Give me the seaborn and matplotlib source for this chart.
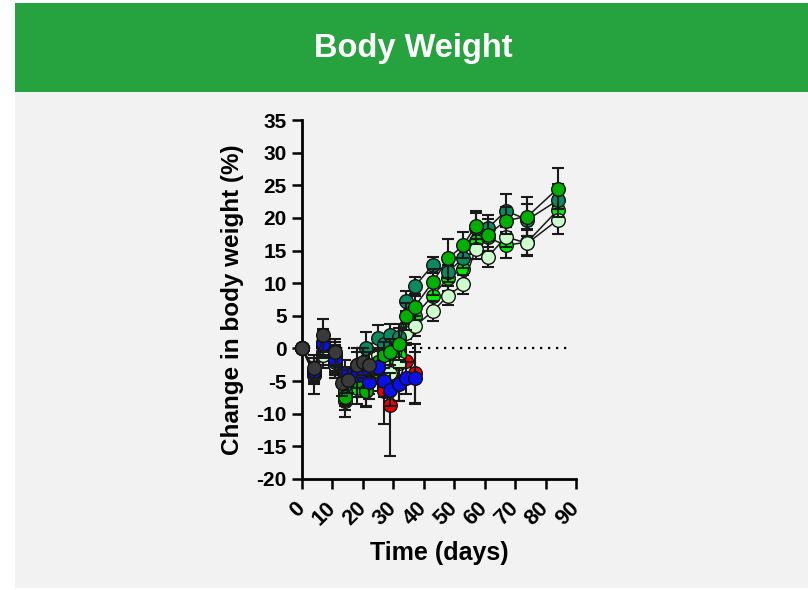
import numpy as np
import pandas as pd
import matplotlib
matplotlib.use("Agg")
import matplotlib.pyplot as plt
import seaborn as sns
from matplotlib.patches import Rectangle

sns.set_theme(style="ticks")
plt.rcParams['font.family'] = ['Liberation Sans', 'DejaVu Sans']

title = "Body Weight"
x_label = "Time (days)"
y_label = "Change in body weight (%)"
x_ticks = [0, 10, 20, 30, 40, 50, 60, 70, 80, 90]
y_ticks = [-20, -15, -10, -5, 0, 5, 10, 15, 20, 25, 30, 35]

green_days = [0, 4, 7, 11, 14, 18, 21, 25, 27, 29, 32, 34, 37, 43, 48, 53, 57, 61, 67, 74, 84]
teal_vals = [0, -3.5, 1.0, -1.5, -6.5, -2.5, 0.0, 1.6, 0.7, 2.0, 1.8, 7.3, 9.5, 12.8, 11.7, 13.9, 18.5, 18.4, 21.1, 19.7, 22.7]
teal_err = [0, 1.5, 2.0, 2.0, 2.0, 2.5, 2.5, 2.0, 1.5, 1.8, 2.0, 1.5, 1.5, 1.2, 1.5, 1.5, 2.5, 2.0, 2.5, 2.5, 2.5]
medium_vals = [0, -3.8, 0.5, -2.0, -7.5, -5.0, -6.5, -2.0, -1.0, -0.5, 0.7, 4.9, 6.4, 10.2, 13.8, 15.8, 18.8, 17.4, 19.6, 20.2, 24.5]
medium_err = [0, 1.5, 2.0, 2.0, 2.0, 2.5, 2.5, 2.0, 2.0, 2.0, 2.5, 2.0, 2.0, 2.0, 3.0, 2.0, 2.0, 2.5, 2.0, 3.0, 3.2]
bright_vals = [0, -4.0, -0.5, -2.5, -8.0, -6.0, -6.3, -3.5, -2.5, -1.5, -1.0, 3.5, 5.0, 8.1, 10.8, 12.2, 16.5, 17.0, 15.8, 16.3, 21.2]
bright_err = [0, 1.5, 2.0, 2.0, 2.5, 2.5, 2.5, 2.0, 2.0, 2.0, 2.0, 2.0, 2.0, 2.0, 2.0, 2.0, 2.0, 2.0, 2.0, 2.0, 2.0]
light_vals = [0, -4.0, -1.0, -2.5, -6.8, -5.0, -4.5, -1.0, -2.5, -3.8, -2.2, 2.3, 3.4, 5.7, 8.1, 9.8, 15.2, 14.0, 17.1, 16.1, 19.7]
light_err = [0, 3.0, 2.0, 2.0, 2.0, 2.5, 2.5, 2.0, 2.0, 2.0, 2.0, 1.5, 1.5, 1.5, 1.5, 1.5, 1.5, 1.5, 1.5, 2.0, 2.2]

dark_days = [0, 4, 7, 11, 13, 15, 18, 20, 22]
dark_vals = [0, -3.0, 2.0, -0.6, -5.3, -4.9, -2.6, -2.0, -2.5]
dark_err = [0, 1.5, 2.5, 2.0, 2.0, 2.0, 2.0, 2.0, 2.0]

blue_days = [0, 4, 7, 11, 14, 18, 20, 22, 25, 27, 29, 32, 34, 37]
blue_vals = [0, -3.5, 0.7, -1.7, -3.8, -4.0, -4.0, -5.2, -2.8, -5.0, -6.3, -5.5, -4.5, -4.5]
blue_err = [0, 1.5, 2, 2, 2, 2, 2, 2.5, 2.5, 2.5, 2.5, 2.5, 2.5, 4.0]

red_days = [0, 4, 7, 11, 14, 18, 22, 25, 27, 29, 32, 34, 37]
red_vals = [0, -3.5, 0.5, -1.0, -5.0, -4.0, -4.5, -4.0, -6.5, -8.7, -5.0, -1.9, -3.8]
red_err = [0, 1.5, 2, 2, 2, 2, 2.5, 2.5, 5, 7.7, 3, 2.5, 4.5]

series = [
    ("red", red_days, red_vals, red_err, "#ee0000"),
    ("bright", green_days, bright_vals, bright_err, "#00ee00"),
    ("light", green_days, light_vals, light_err, "#ccffcc"),
    ("teal", green_days, teal_vals, teal_err, "#0a8a5e"),
    ("medium", green_days, medium_vals, medium_err, "#00b000"),
    ("blue", blue_days, blue_vals, blue_err, "#0a10e8"),
    ("dark", dark_days, dark_vals, dark_err, "#3a3a3a"),
]

W, H = 808, 590
fig = plt.figure(figsize=(W / 100, H / 100), dpi=100)
fig.patch.set_facecolor("white")
fig.add_artist(Rectangle((15 / W, 2 / H), 1, (H - 92 - 2) / H, transform=fig.transFigure,
                         facecolor="#f2f2f2", edgecolor="none", zorder=0))
fig.add_artist(Rectangle((15 / W, 1 - 92 / H), 1, 89 / H, transform=fig.transFigure,
                         facecolor="#26a23e", edgecolor="none", zorder=0))
fig.text(413 / W, 1 - 48 / H, title, ha="center", va="center", color="white",
         fontsize=23.5, fontweight="bold")

ax = fig.add_axes([302 / W, 1 - 479 / H, 274 / W, 359 / H])
ax.set_facecolor("none")

ax.plot([2, 88], [0, 0], color="black", lw=1.6, linestyle=(0, (1, 2.6)), zorder=1)

for i, (name, d, v, e, c) in enumerate(series):
    z = 3 + i * 2
    ax.errorbar(d, v, yerr=e, fmt="none", ecolor="#1a1a1a", elinewidth=1.5,
                capsize=4.5, capthick=1.5, zorder=z, clip_on=False)
    df = pd.DataFrame({"day": d, "val": v})
    sns.lineplot(data=df, x="day", y="val", ax=ax, color="#1a1a1a", lw=1.1,
                 marker="o", markersize=9.8, markerfacecolor=c,
                 markeredgecolor="#111111", markeredgewidth=1.0,
                 estimator=None, sort=False, zorder=z + 1, clip_on=False)

ax.set_xlim(0, 90)
ax.set_ylim(-20, 35)
ax.set_xticks(x_ticks)
ax.set_yticks(y_ticks)
ax.set_xticklabels([str(t) for t in x_ticks], rotation=45, ha="right", va="center",
                   rotation_mode="anchor", fontsize=15.5, fontweight="bold")
ax.set_yticklabels([str(t) for t in y_ticks], fontsize=15, fontweight="bold")
for s in ["top", "right"]:
    ax.spines[s].set_visible(False)
for s in ["left", "bottom"]:
    ax.spines[s].set_linewidth(2)
    ax.spines[s].set_color("black")
ax.tick_params(axis="both", width=1.8, length=7, color="black", labelcolor="black", direction="out")
ax.tick_params(axis="y", pad=4)
ax.tick_params(axis="x", pad=12)
ax.set_xlabel(x_label, fontsize=18, fontweight="bold", color="black", labelpad=8)
ax.set_ylabel(y_label, fontsize=17.5, fontweight="bold", color="black", labelpad=9)
ax.grid(False)

fig.savefig("out.png", dpi=100, facecolor=fig.get_facecolor())
